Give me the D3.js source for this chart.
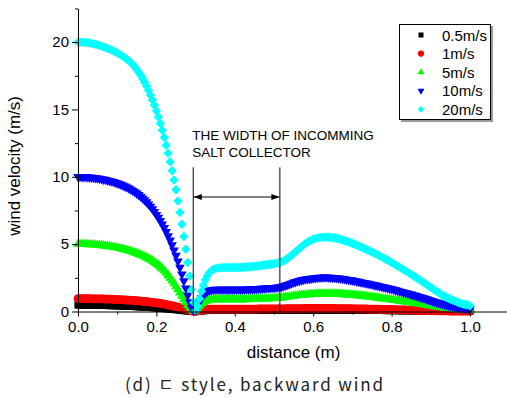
<!DOCTYPE html>
<html>
<head>
<meta charset="utf-8">
<script src="https://cdn.jsdelivr.net/npm/d3@7"></script>
<style>
  body { margin: 0; background: #fff; }
  svg { display: block; font-family: "Liberation Sans", Arial, sans-serif; }
</style>
</head>
<body>
<div id="chart"></div>
<script>
// distance grid (m), one reading every 0.005 m from 0 to 1.0
const distance = d3.range(201).map(i => +(i * 0.005).toFixed(3));

const seriesNames = ['0.5m/s', '1m/s', '5m/s', '10m/s', '20m/s'];
const seriesColors = ['#000000', '#ff0000', '#00ff00', '#0000ff', '#00ffff'];

const v05 = [
  0.48,0.48,0.48,0.48,0.48,0.48,0.47,0.47,0.47,0.47,0.46,0.46,0.46,0.45,0.45,0.45,0.44,0.44,0.43,0.43,
  0.42,0.42,0.41,0.41,0.40,0.40,0.39,0.38,0.38,0.37,0.36,0.35,0.35,0.34,0.33,0.32,0.31,0.30,0.29,0.28,
  0.27,0.26,0.25,0.24,0.22,0.21,0.20,0.18,0.17,0.15,0.14,0.12,0.11,0.09,0.07,0.06,0.04,0.03,0.01,0.00,
  0.00,0.02,0.04,0.05,0.06,0.07,0.08,0.08,0.08,0.08,0.08,0.08,0.08,0.08,0.08,0.08,0.08,0.08,0.08,0.08,
  0.08,0.08,0.08,0.08,0.08,0.08,0.08,0.08,0.08,0.08,0.08,0.08,0.09,0.09,0.09,0.09,0.09,0.09,0.09,0.09,
  0.09,0.09,0.09,0.09,0.10,0.10,0.10,0.10,0.10,0.10,0.11,0.11,0.11,0.11,0.11,0.11,0.11,0.11,0.11,0.11,
  0.11,0.11,0.11,0.11,0.11,0.11,0.11,0.11,0.11,0.11,0.11,0.11,0.11,0.11,0.11,0.11,0.11,0.11,0.11,0.11,
  0.11,0.10,0.10,0.10,0.10,0.10,0.10,0.09,0.09,0.09,0.09,0.09,0.08,0.08,0.08,0.08,0.08,0.07,0.07,0.07,
  0.07,0.07,0.07,0.06,0.06,0.06,0.06,0.06,0.05,0.05,0.05,0.05,0.05,0.04,0.04,0.04,0.04,0.04,0.04,0.03,
  0.03,0.03,0.03,0.03,0.03,0.03,0.03,0.03,0.03,0.03,0.02,0.02,0.02,0.02,0.02,0.02,0.02,0.02,0.02,0.02,
  0.02
];

const v1 = [
  0.95,0.95,0.95,0.95,0.95,0.95,0.95,0.94,0.94,0.94,0.94,0.93,0.93,0.93,0.92,0.92,0.91,0.91,0.90,0.90,
  0.89,0.88,0.88,0.87,0.86,0.85,0.84,0.83,0.82,0.81,0.80,0.79,0.77,0.76,0.75,0.73,0.72,0.70,0.68,0.66,
  0.64,0.62,0.60,0.58,0.55,0.52,0.49,0.46,0.43,0.40,0.36,0.33,0.29,0.25,0.21,0.17,0.13,0.09,0.05,0.02,
  0.01,0.04,0.08,0.11,0.14,0.16,0.17,0.18,0.18,0.18,0.18,0.18,0.18,0.18,0.18,0.18,0.18,0.18,0.18,0.18,
  0.18,0.18,0.18,0.18,0.18,0.18,0.18,0.18,0.18,0.18,0.18,0.18,0.19,0.19,0.19,0.19,0.19,0.19,0.19,0.19,
  0.19,0.19,0.20,0.20,0.20,0.20,0.21,0.21,0.21,0.21,0.22,0.22,0.22,0.22,0.22,0.23,0.23,0.23,0.23,0.23,
  0.23,0.23,0.23,0.23,0.23,0.23,0.23,0.23,0.23,0.23,0.23,0.23,0.22,0.22,0.22,0.22,0.22,0.21,0.21,0.21,
  0.21,0.20,0.20,0.20,0.20,0.19,0.19,0.19,0.18,0.18,0.18,0.17,0.17,0.17,0.16,0.16,0.16,0.15,0.15,0.15,
  0.14,0.14,0.14,0.13,0.13,0.13,0.12,0.12,0.11,0.11,0.11,0.10,0.10,0.09,0.09,0.09,0.08,0.08,0.07,0.07,
  0.07,0.06,0.06,0.06,0.05,0.05,0.05,0.04,0.04,0.04,0.03,0.03,0.03,0.03,0.02,0.02,0.02,0.02,0.02,0.02,
  0.02
];

const v5 = [
  5.00,5.00,5.00,4.99,4.99,4.98,4.98,4.97,4.96,4.95,4.94,4.92,4.91,4.89,4.87,4.85,4.83,4.81,4.78,4.76,
  4.73,4.70,4.67,4.63,4.59,4.55,4.51,4.47,4.42,4.37,4.32,4.26,4.20,4.14,4.07,4.00,3.92,3.84,3.75,3.65,
  3.55,3.44,3.31,3.17,3.02,2.86,2.68,2.49,2.29,2.08,1.86,1.63,1.40,1.16,0.92,0.69,0.47,0.28,0.12,0.03,
  0.05,0.22,0.40,0.55,0.67,0.76,0.82,0.86,0.88,0.89,0.90,0.90,0.90,0.90,0.90,0.90,0.90,0.90,0.90,0.90,
  0.90,0.90,0.90,0.90,0.90,0.90,0.90,0.91,0.91,0.91,0.92,0.92,0.93,0.93,0.94,0.94,0.95,0.96,0.96,0.97,
  0.98,0.99,1.00,1.01,1.03,1.05,1.07,1.09,1.11,1.13,1.15,1.17,1.19,1.21,1.22,1.24,1.25,1.26,1.27,1.28,
  1.29,1.30,1.31,1.31,1.32,1.32,1.32,1.32,1.32,1.31,1.31,1.30,1.30,1.29,1.28,1.27,1.26,1.25,1.24,1.23,
  1.22,1.21,1.19,1.18,1.17,1.15,1.14,1.12,1.10,1.09,1.07,1.05,1.03,1.01,0.99,0.97,0.95,0.93,0.91,0.89,
  0.87,0.85,0.83,0.81,0.79,0.77,0.75,0.73,0.71,0.69,0.66,0.64,0.62,0.59,0.57,0.55,0.52,0.50,0.48,0.45,
  0.43,0.41,0.38,0.36,0.34,0.32,0.30,0.28,0.26,0.24,0.22,0.20,0.18,0.17,0.15,0.14,0.13,0.12,0.11,0.10,
  0.09
];

const v10 = [
  10.00,10.00,9.99,9.99,9.98,9.97,9.96,9.95,9.93,9.91,9.89,9.87,9.84,9.81,9.78,9.75,9.71,9.67,9.63,9.58,
  9.53,9.48,9.42,9.36,9.29,9.22,9.14,9.06,8.97,8.87,8.77,8.66,8.54,8.41,8.27,8.12,7.96,7.79,7.60,7.40,
  7.19,6.97,6.73,6.48,6.21,5.92,5.61,5.28,4.93,4.55,4.15,3.72,3.26,2.77,2.26,1.73,1.20,0.70,0.28,0.05,
  0.10,0.40,0.72,1.00,1.22,1.38,1.49,1.56,1.60,1.62,1.63,1.64,1.64,1.64,1.64,1.64,1.64,1.64,1.64,1.64,
  1.64,1.64,1.64,1.64,1.64,1.64,1.65,1.65,1.66,1.66,1.67,1.68,1.69,1.70,1.71,1.72,1.73,1.74,1.75,1.76,
  1.77,1.78,1.80,1.82,1.85,1.89,1.94,1.99,2.04,2.10,2.15,2.20,2.25,2.29,2.33,2.36,2.39,2.41,2.43,2.45,
  2.47,2.49,2.51,2.52,2.53,2.54,2.54,2.54,2.53,2.52,2.51,2.50,2.49,2.47,2.45,2.43,2.41,2.38,2.36,2.33,
  2.31,2.28,2.25,2.22,2.19,2.16,2.13,2.10,2.07,2.04,2.01,1.98,1.94,1.91,1.88,1.84,1.81,1.77,1.74,1.70,
  1.67,1.63,1.59,1.55,1.51,1.47,1.43,1.39,1.35,1.31,1.27,1.23,1.18,1.14,1.10,1.05,1.01,0.96,0.92,0.87,
  0.82,0.77,0.73,0.68,0.64,0.60,0.56,0.52,0.48,0.45,0.42,0.39,0.36,0.33,0.30,0.28,0.26,0.24,0.23,0.22,
  0.19
];

const v20 = [
  20.00,20.00,19.99,19.98,19.97,19.95,19.93,19.90,19.87,19.84,19.80,19.75,19.70,19.65,19.60,19.54,19.48,19.42,19.35,19.28,
  19.20,19.12,19.03,18.94,18.84,18.73,18.61,18.48,18.33,18.16,17.97,17.76,17.53,17.28,17.01,16.72,16.40,16.06,15.70,15.31,
  14.89,14.44,13.96,13.45,12.91,12.34,11.74,11.11,10.45,9.76,9.04,8.20,7.35,6.48,5.57,4.62,3.64,2.63,1.62,0.66,
  0.08,0.40,0.95,1.50,1.95,2.35,2.65,2.88,3.03,3.12,3.18,3.22,3.24,3.25,3.26,3.27,3.27,3.27,3.27,3.27,
  3.27,3.27,3.27,3.28,3.28,3.29,3.30,3.31,3.32,3.33,3.35,3.37,3.39,3.41,3.43,3.45,3.47,3.49,3.51,3.53,
  3.55,3.57,3.60,3.64,3.69,3.76,3.85,3.95,4.06,4.18,4.30,4.43,4.56,4.69,4.81,4.93,5.04,5.14,5.23,5.30,
  5.36,5.41,5.45,5.48,5.50,5.51,5.52,5.52,5.51,5.50,5.48,5.46,5.43,5.40,5.36,5.32,5.27,5.22,5.17,5.11,
  5.05,4.99,4.93,4.87,4.81,4.75,4.68,4.61,4.55,4.48,4.41,4.34,4.27,4.19,4.12,4.04,3.96,3.88,3.80,3.72,
  3.63,3.55,3.46,3.38,3.29,3.20,3.12,3.03,2.94,2.85,2.76,2.67,2.58,2.49,2.39,2.29,2.19,2.09,1.99,1.89,
  1.79,1.69,1.59,1.49,1.39,1.30,1.21,1.13,1.05,0.98,0.91,0.85,0.79,0.73,0.67,0.62,0.57,0.53,0.50,0.49,
  0.42
];

const seriesValues = [v05, v1, v5, v10, v20];

const yMajorTicks = [0, 5, 10, 15, 20];
const yMinorTicks = [2.5, 7.5, 12.5, 17.5, 22.5];
const xMajorTicks = [0, 0.2, 0.4, 0.6, 0.8, 1.0];
const xMinorTicks = [0.1, 0.3, 0.5, 0.7, 0.9, 1.1];

// collector annotation (data units)
const collectorEdges = [0.294, 0.515];
const collectorTop = 10.7;
const collectorArrowY = 8.5;
const collectorText = ['THE WIDTH OF INCOMMING', 'SALT COLLECTOR'];

const width = 507, height = 398;

const svg = d3.select('#chart').append('svg')
  .attr('width', width)
  .attr('height', height);

svg.append('rect').attr('width', width).attr('height', height).attr('fill', '#fff');

const x = d3.scaleLinear().domain([0, 1.1]).range([78, 78 + 1.1 * 392]);
const y = d3.scaleLinear().domain([0, 22.5]).range([311.5, 311.5 - 22.5 * 13.47]);

// symbols
const symbolFor = [
  { type: d3.symbolSquare, size: 52, rot: 0 },
  { type: d3.symbolCircle, size: 60, rot: 0 },
  { type: d3.symbolTriangle, size: 40, rot: 0 },
  { type: d3.symbolTriangle, size: 40, rot: 180 },
  { type: d3.symbolSquare, size: 44, rot: 45 }
];
const legendSymbol = [
  { type: d3.symbolSquare, size: 25, rot: 0 },
  { type: d3.symbolCircle, size: 30, rot: 0 },
  { type: d3.symbolTriangle, size: 20, rot: 0 },
  { type: d3.symbolTriangle, size: 20, rot: 180 },
  { type: d3.symbolSquare, size: 22, rot: 45 }
];

// data marks
const plot = svg.append('g');
seriesValues.forEach((vals, si) => {
  const s = symbolFor[si];
  const path = d3.symbol().type(s.type).size(s.size)();
  plot.append('g')
    .attr('fill', seriesColors[si])
    .selectAll('path')
    .data(vals.map((v, i) => ({ d: distance[i], v: v })))
    .join('path')
    .attr('d', path)
    .attr('transform', p => `translate(${x(p.d)},${y(p.v)}) rotate(${s.rot})`);
});

// axes
svg.append('g').attr('transform', `translate(${x(0)},0)`)
  .call(d3.axisLeft(y).tickValues(yMajorTicks).tickSize(6).tickSizeOuter(0).tickPadding(3).tickFormat(d3.format('d')));
svg.append('g').attr('transform', `translate(${x(0)},0)`)
  .call(d3.axisLeft(y).tickValues(yMinorTicks).tickSize(3).tickSizeOuter(0).tickFormat(''))
  .select('.domain').remove();

svg.append('g').attr('transform', `translate(0,${y(0)})`)
  .call(d3.axisBottom(x).tickValues(xMajorTicks).tickSize(5).tickSizeOuter(0).tickPadding(5).tickFormat(d3.format('.1f')));
svg.append('g').attr('transform', `translate(0,${y(0)})`)
  .call(d3.axisBottom(x).tickValues(xMinorTicks).tickSize(3).tickSizeOuter(0).tickFormat(''))
  .select('.domain').remove();

svg.selectAll('.tick text').attr('font-size', 15).attr('fill', '#000').attr('font-family', '"Liberation Sans", Arial, sans-serif');
svg.selectAll('.domain, .tick line').attr('stroke', '#000');

// axis titles
svg.append('text')
  .attr('transform', `translate(20,${(y(0) + y(22.5)) / 2 + 6}) rotate(-90)`)
  .attr('text-anchor', 'middle')
  .attr('font-size', 17)
  .text('wind velocity (m/s)');

svg.append('text')
  .attr('x', (x(0) + x(1.1)) / 2)
  .attr('y', 358)
  .attr('text-anchor', 'middle')
  .attr('font-size', 17)
  .text('distance (m)');

// caption
svg.append('text')
  .attr('x', 125)
  .attr('y', 391)
  .attr('font-family', '"Noto Sans CJK KR", sans-serif')
  .attr('font-size', 17)
  .attr('fill', '#222')
  .attr('textLength', 258)
  .attr('lengthAdjust', 'spacing')
  .text('(d) ㄷ style, backward wind');

// collector annotation
const defs = svg.append('defs');
defs.append('marker')
  .attr('id', 'arrow')
  .attr('viewBox', '0 0 8 6')
  .attr('refX', 8).attr('refY', 3)
  .attr('markerWidth', 8).attr('markerHeight', 6)
  .attr('markerUnits', 'userSpaceOnUse')
  .attr('orient', 'auto-start-reverse')
  .append('path').attr('d', 'M0,0L8,3L0,6Z').attr('fill', '#000');

const ann = svg.append('g');
ann.selectAll('line.edge')
  .data(collectorEdges)
  .join('line')
  .attr('class', 'edge')
  .attr('x1', d => x(d)).attr('x2', d => x(d))
  .attr('y1', y(collectorTop)).attr('y2', y(0))
  .attr('stroke', '#000').attr('stroke-width', 1);

ann.append('line')
  .attr('x1', x(collectorEdges[0]) + 0.5).attr('x2', x(collectorEdges[1]) - 0.5)
  .attr('y1', y(collectorArrowY)).attr('y2', y(collectorArrowY))
  .attr('stroke', '#000').attr('stroke-width', 1)
  .attr('marker-start', 'url(#arrow)')
  .attr('marker-end', 'url(#arrow)');

ann.selectAll('text')
  .data(collectorText)
  .join('text')
  .attr('x', x(collectorEdges[0]) - 1)
  .attr('y', (d, i) => 140 + i * 16.5)
  .attr('font-size', 13.5)
  .text(d => d);

// legend
const legend = svg.append('g').attr('transform', 'translate(399,24)');
legend.append('rect').attr('x', 2).attr('y', 2).attr('width', 92).attr('height', 96).attr('fill', '#999');
legend.append('rect').attr('x', 0.5).attr('y', 0.5).attr('width', 91).attr('height', 95)
  .attr('fill', '#fff').attr('stroke', '#000').attr('stroke-width', 1);

seriesNames.forEach((name, i) => {
  const row = legend.append('g').attr('transform', `translate(0,${11 + i * 18.6})`);
  const s = legendSymbol[i];
  row.append('path')
    .attr('d', d3.symbol().type(s.type).size(s.size)())
    .attr('transform', `translate(22,0) rotate(${s.rot})`)
    .attr('fill', seriesColors[i]);
  row.append('text')
    .attr('x', 43)
    .attr('y', 5.5)
    .attr('font-size', 15)
    .text(name);
});
</script>
</body>
</html>
